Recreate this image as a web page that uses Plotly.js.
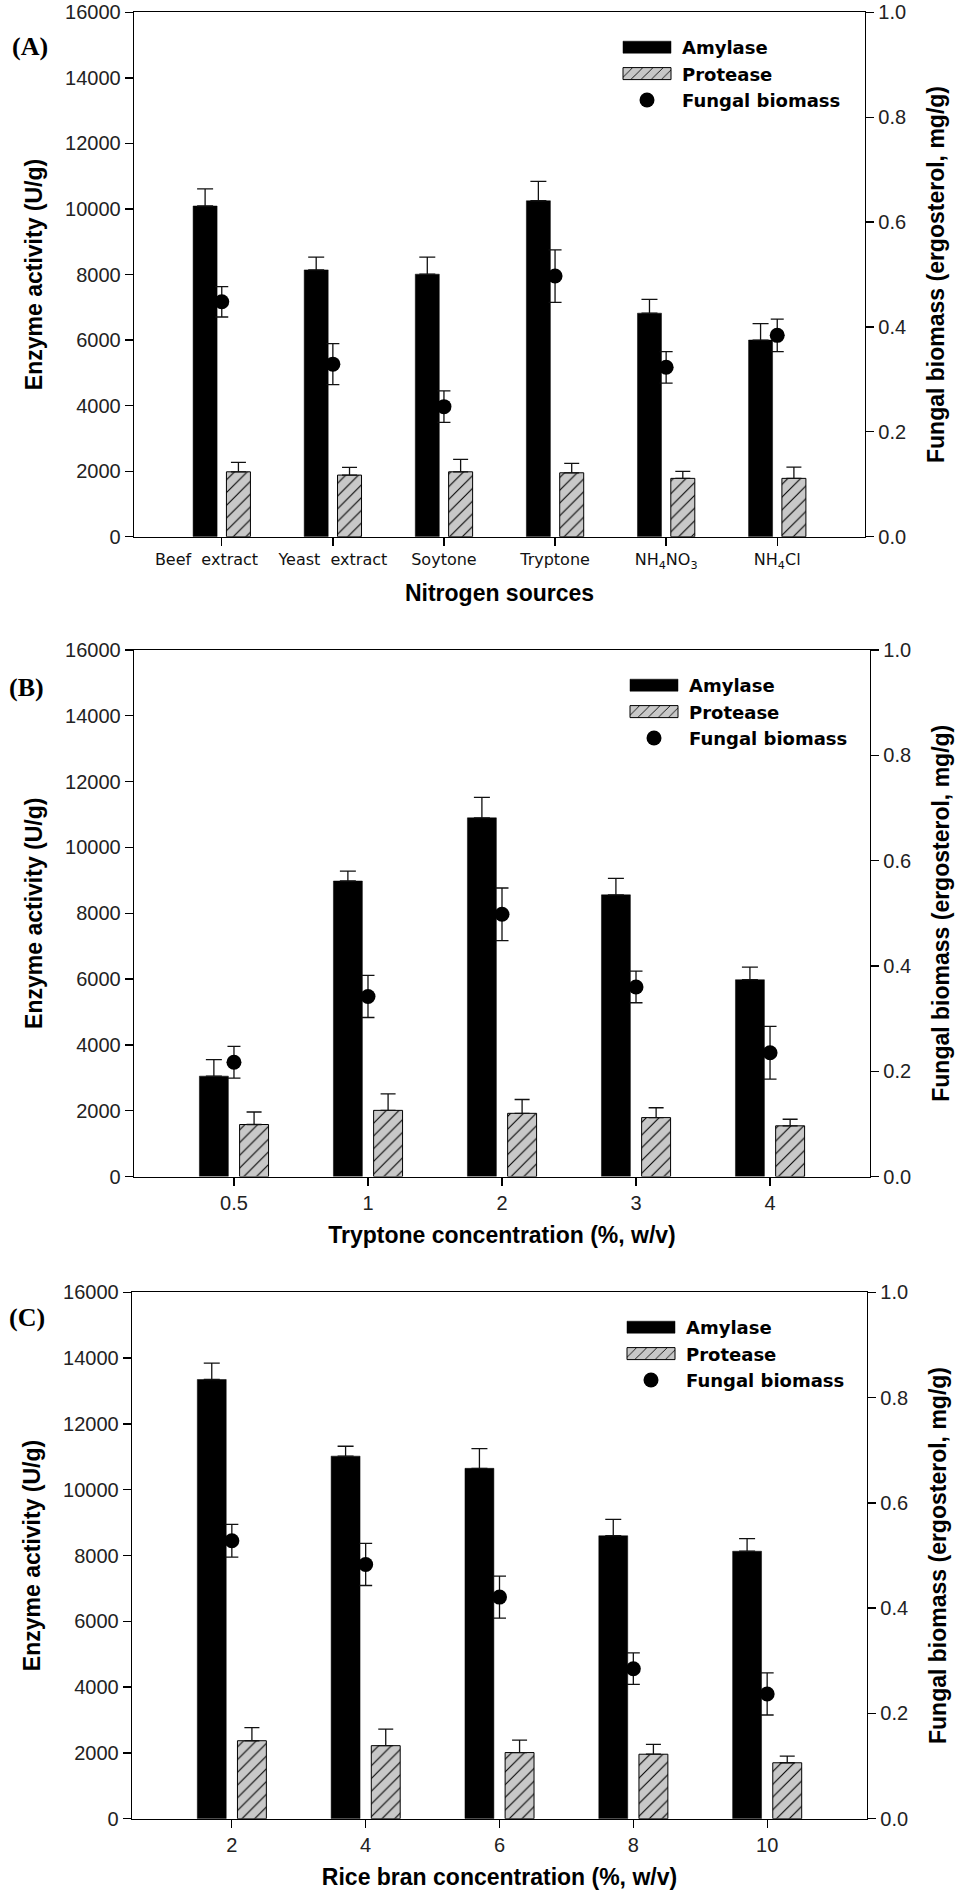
<!DOCTYPE html>
<html><head><meta charset="utf-8">
<script src="https://cdn.plot.ly/plotly-3.0.1.min.js"></script>
<style>html,body{margin:0;padding:0;background:#fff;} #chart{width:967px;height:1897px;}</style>
</head><body><div id="chart"></div>
<script>
// ---------- Panel A: nitrogen sources ----------
const nitrogenSources = ['Beef\u00a0 extract\u00a0\u00a0\u00a0\u00a0\u00a0\u00a0', 'Yeast\u00a0 extract', 'Soytone', 'Tryptone', 'NH<sub>4</sub>NO<sub>3</sub>', 'NH<sub>4</sub>Cl'];
const amylaseA     = [10090, 8140, 8010, 10250, 6820, 6000];
const amylaseErrA  = [520, 390, 520, 590, 420, 500];
const proteaseA    = [1980, 1880, 1980, 1950, 1780, 1780];
const proteaseErrA = [290, 235, 380, 290, 215, 340];
const biomassA     = [0.448, 0.329, 0.248, 0.497, 0.323, 0.384];
const biomassErrA  = [0.029, 0.039, 0.030, 0.050, 0.030, 0.031];

// ---------- Panel B: tryptone concentration ----------
const tryptoneConc = ['0.5', '1', '2', '3', '4'];
const amylaseB     = [3050, 8980, 10900, 8560, 5980];
const amylaseErrB  = [500, 300, 620, 500, 380];
const proteaseB    = [1580, 2010, 1920, 1790, 1540];
const proteaseErrB = [380, 500, 420, 300, 200];
const biomassB     = [0.217, 0.342, 0.498, 0.360, 0.235];
const biomassErrB  = [0.030, 0.040, 0.050, 0.030, 0.050];

// ---------- Panel C: rice bran concentration ----------
const riceBranConc = ['2', '4', '6', '8', '10'];
const amylaseC     = [13350, 11020, 10650, 8600, 8130];
const amylaseErrC  = [500, 300, 600, 500, 380];
const proteaseC    = [2370, 2220, 2010, 1960, 1700];
const proteaseErrC = [400, 500, 380, 300, 200];
const biomassC     = [0.528, 0.483, 0.421, 0.285, 0.237];
const biomassErrC  = [0.031, 0.040, 0.040, 0.030, 0.040];

const seriesNames = ['Amylase', 'Protease', 'Fungal biomass'];
const leftTitle = 'Enzyme activity (U/g)';
const rightTitle = 'Fungal biomass (ergosterol, mg/g)';
const xTitles = ['Nitrogen sources', 'Tryptone concentration (%, w/v)', 'Rice bran concentration (%, w/v)'];
const panelLabels = ['(A)', '(B)', '(C)'];

const W = 967, H = 1897;
const BLACK = '#000';
const LW = 1.3;

const panels = [
  {cats: nitrogenSources, amy: amylaseA, amyE: amylaseErrA, pro: proteaseA, proE: proteaseErrA, bio: biomassA, bioE: biomassErrA,
   box: [134, 865, 12.3, 536.7], xr: [-0.79, 5.79], leg: [612, 29], lab: [10, 47], tickFont: {family: 'DejaVu Sans', size: 16, color: '#111'}},
  {cats: tryptoneConc, amy: amylaseB, amyE: amylaseErrB, pro: proteaseB, proE: proteaseErrB, bio: biomassB, bioE: biomassErrB,
   box: [134, 870, 650, 1176.5], xr: [-0.746, 4.746], leg: [619, 667], lab: [7, 687], tickFont: {family: 'Liberation Sans', size: 20, color: '#222'}},
  {cats: riceBranConc, amy: amylaseC, amyE: amylaseErrC, pro: proteaseC, proE: proteaseErrC, bio: biomassC, bioE: biomassErrC,
   box: [132, 867, 1292.3, 1818.7], xr: [-0.746, 4.746], leg: [616, 1309], lab: [7, 1317], tickFont: {family: 'Liberation Sans', size: 20, color: '#222'}}
];

const data = [];
const layout = {
  width: W, height: H,
  margin: {l: 0, r: 0, t: 0, b: 0},
  paper_bgcolor: '#fff', plot_bgcolor: 'rgba(0,0,0,0)',
  barmode: 'overlay',
  showlegend: true,
  annotations: [],
  font: {family: 'Liberation Sans', color: '#000'}
};

const titleFont = {family: 'Liberation Sans', size: 23, weight: 'bold', color: '#000'};
const yTickFont = {family: 'Liberation Sans', size: 20, color: '#222'};

panels.forEach((p, i) => {
  const xa = i === 0 ? 'x' : 'x' + (i + 1);
  const yl = 'y' + (i === 0 ? '' : (2 * i + 1));
  const yr = 'y' + (2 * i + 2);
  const legName = i === 0 ? 'legend' : 'legend' + (i + 1);
  const idx = p.cats.map((_, k) => k);
  const zeros = p.amyE.map(() => 0);
  const zerosP = p.proE.map(() => 0);

  data.push({
    type: 'bar', name: seriesNames[0], legend: legName,
    x: idx, y: p.amy, xaxis: xa, yaxis: yl,
    offset: -0.258, width: 0.216,
    marker: {color: BLACK, line: {color: BLACK, width: 0.5}},
    error_y: {type: 'data', symmetric: false, array: p.amyE, arrayminus: zeros, color: '#111', thickness: LW, width: 8}
  });
  data.push({
    type: 'bar', name: seriesNames[1], legend: legName,
    x: idx, y: p.pro, xaxis: xa, yaxis: yl,
    offset: 0.042, width: 0.216,
    marker: {color: '#c8c8c8', line: {color: BLACK, width: 1},
             pattern: {shape: '/', fgcolor: '#000', bgcolor: '#c8c8c8', size: 9, solidity: 0.12}},
    error_y: {type: 'data', symmetric: false, array: p.proE, arrayminus: zerosP, color: '#111', thickness: LW, width: 7.5}
  });
  data.push({
    type: 'scatter', mode: 'markers', name: seriesNames[2], legend: legName,
    x: idx, y: p.bio, xaxis: xa, yaxis: yr,
    marker: {color: BLACK, size: 15},
    error_y: {type: 'data', array: p.bioE, color: '#111', thickness: LW, width: 6.5}
  });

  const [L, R, T, B] = p.box;
  const xKey = i === 0 ? 'xaxis' : 'xaxis' + (i + 1);
  const ylKey = 'yaxis' + (i === 0 ? '' : (2 * i + 1));
  const yrKey = 'yaxis' + (2 * i + 2);

  layout[xKey] = {
    domain: [L / W, R / W], anchor: yl, range: p.xr,
    tickmode: 'array', tickvals: idx, ticktext: p.cats, tickangle: 0,
    ticks: 'outside', ticklen: 8, tickwidth: LW, tickcolor: BLACK,
    showline: true, linecolor: BLACK, linewidth: LW, mirror: true,
    showgrid: false, zeroline: false, tickfont: p.tickFont,
    title: {text: xTitles[i], font: titleFont, standoff: 14}
  };
  layout[ylKey] = {
    domain: [1 - B / H, 1 - T / H], anchor: xa, range: [0, 16000], dtick: 2000, tick0: 0, tickformat: 'd',
    ticks: 'outside', ticklen: 8, tickwidth: LW, tickcolor: BLACK,
    showline: true, linecolor: BLACK, linewidth: LW,
    showgrid: false, zeroline: false, tickfont: yTickFont,
    title: {text: leftTitle, font: titleFont, standoff: 16}
  };
  layout[yrKey] = {
    overlaying: yl, side: 'right', anchor: xa, range: [0, 1], dtick: 0.2, tick0: 0, tickformat: '.1f',
    ticks: 'outside', ticklen: 8, tickwidth: LW, tickcolor: BLACK,
    showline: true, linecolor: BLACK, linewidth: LW,
    showgrid: false, zeroline: false, tickfont: yTickFont,
    title: {text: rightTitle, font: titleFont, standoff: 22}
  };
  layout[legName] = {
    x: p.leg[0] / W, y: 1 - p.leg[1] / H, xanchor: 'left', yanchor: 'top',
    xref: 'paper', yref: 'paper',
    bgcolor: 'rgba(0,0,0,0)', borderwidth: 0, itemwidth: 60, traceorder: 'normal',
    font: {family: 'DejaVu Sans', size: 18, weight: 'bold', color: '#000'}
  };
  layout.annotations.push({
    text: panelLabels[i], xref: 'paper', yref: 'paper',
    x: p.lab[0] / W, y: 1 - p.lab[1] / H, xanchor: 'left', yanchor: 'middle', showarrow: false,
    font: {family: 'Liberation Serif', size: 26, weight: 'bold', color: '#000'}
  });
});

function widenSwatches() {
  document.querySelectorAll('g.legendpoints path').forEach(pth => {
    const d = pth.getAttribute('d') || '';
    if (d.replace(/\s/g, '') === 'M6,6H-6V-6H6Z') pth.setAttribute('d', 'M24,6H-24V-6H24Z');
  });
}

Plotly.newPlot('chart', data, layout, {staticPlot: true, displayModeBar: false}).then(gd => {
  widenSwatches();
  gd.on('plotly_afterplot', widenSwatches);
  setTimeout(widenSwatches, 50);
  setTimeout(widenSwatches, 300);
});
</script>
</body></html>
